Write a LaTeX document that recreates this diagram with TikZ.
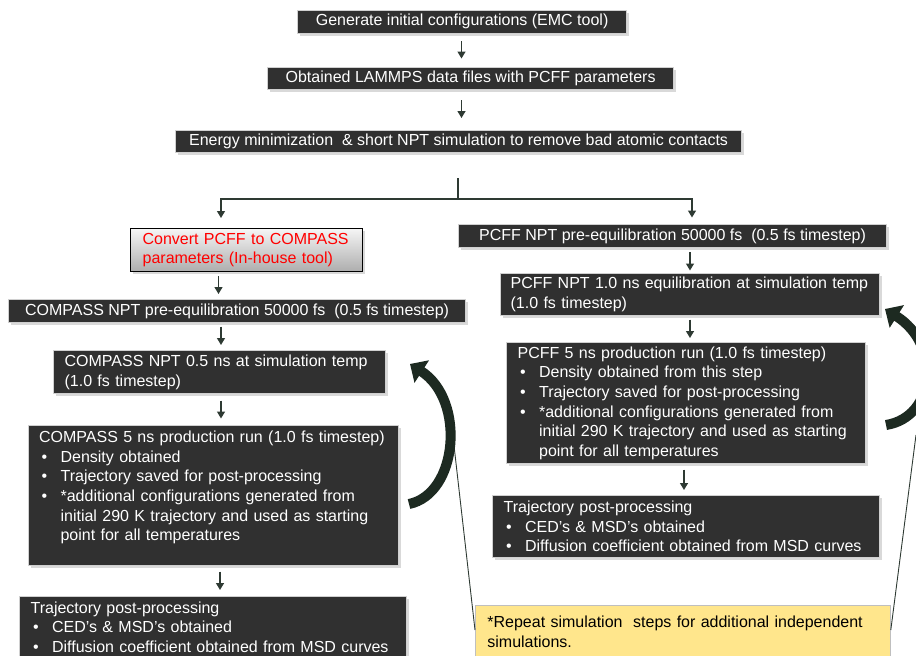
\documentclass[tikz,border=0pt]{standalone}
\usepackage{fontspec}
\setmainfont{Liberation Sans}
\usetikzlibrary{arrows.meta,shadows}
\definecolor{boxfill}{HTML}{303030}
\definecolor{boxedge}{HTML}{D0D0D0}
\definecolor{arrowc}{HTML}{2E3A33}
\definecolor{curvec}{HTML}{1D2A21}
\definecolor{notefill}{HTML}{FFE68C}
\definecolor{noteedge}{HTML}{BFBFBF}
\newcommand{\bitem}{\makebox[21.5pt][l]{\hspace{2.5pt}\textbullet}}
\newcommand{\bcont}{\hspace*{21.5pt}}
\tikzset{
  dbox/.style={fill=boxfill, draw=boxedge, line width=1.2pt, text=white,
    anchor=north west, inner ysep=2pt,
    drop shadow={opacity=0.3, shadow xshift=2pt, shadow yshift=-2.5pt}},
  onebox/.style={dbox, inner xsep=0pt, align=center},
  multibox/.style={dbox, align=left},
  convbox/.style={anchor=north west, draw=black, line width=1.3pt,
    top color=black!4, bottom color=black!32, text=red, align=left,
    inner ysep=2pt,
    drop shadow={opacity=0.3, shadow xshift=2pt, shadow yshift=-2.5pt}},
  arr/.style={draw=arrowc, line width=1.4pt, -{Triangle[length=7pt,width=8pt]}},
  joinline/.style={draw=arrowc, line width=1.4pt},
  bendarrow/.style={draw=curvec, line width=10pt, -{Triangle[length=14pt,width=26pt]}},
  calloutline/.style={draw=arrowc, line width=0.9pt},
  notebox/.style={anchor=north west, fill=notefill, draw=noteedge, line width=0.8pt,
    text=black, align=left}
}
\begin{document}
\begin{tikzpicture}[x=1pt,y=-1pt,font=\fontsize{16}{19.6}\selectfont]
\useasboundingbox (0,0) rectangle (916,656);
\clip (0,0) rectangle (916,656);

% top column
\node[onebox, minimum width=329pt, minimum height=22.5pt] (b1) at (297,10)
  {Generate initial configurations (EMC tool)};
\node[onebox, minimum width=406pt, minimum height=22pt] (b2) at (267,67)
  {Obtained LAMMPS data files with PCFF parameters};
\node[onebox, minimum width=566pt, minimum height=22pt] (b3) at (175,130)
  {Energy minimization\ \ \& short NPT simulation to remove bad atomic contacts};

% left column
\node[convbox, minimum width=232pt, minimum height=43pt, inner xsep=12pt, text width=208pt] (conv) at (130,228)
  {Convert PCFF to COMPASS\\parameters (In-house tool)};
\node[onebox, minimum width=457pt, minimum height=23pt] (b5) at (8,299)
  {COMPASS NPT pre-equilibration 50000 fs\ \ (0.5 fs timestep)};
\node[multibox, minimum width=332pt, minimum height=43pt, inner xsep=11pt, text width=310pt] (b6) at (53,350)
  {COMPASS NPT 0.5 ns at simulation temp\\(1.0 fs timestep)};
\node[multibox, minimum width=370pt, minimum height=140pt, inner xsep=10.5pt, text width=349pt] (b7) at (28,425)
  {COMPASS 5 ns production run (1.0 fs timestep)\\
   \bitem Density obtained\\
   \bitem Trajectory saved for post-processing\\
   \bitem *additional configurations generated from\\
   \bcont initial 290 K trajectory and used as starting\\
   \bcont point for all temperatures\\ \mbox{}};
\node[multibox, minimum width=387pt, inner xsep=11pt, inner ysep=5pt, text width=365pt] (b8) at (19,596)
  {Trajectory post-processing\\
   \bitem CED's \& MSD's obtained\\
   \bitem Diffusion coefficient obtained from MSD curves\\ \mbox{}};

% right column
\node[onebox, minimum width=428pt, minimum height=23pt] (b9) at (458,224)
  {PCFF NPT pre-equilibration 50000 fs\ \ (0.5 fs timestep)};
\node[multibox, minimum width=379pt, minimum height=42pt, inner xsep=10pt, text width=359pt] (b10) at (500,273)
  {PCFF NPT 1.0 ns equilibration at simulation temp\\(1.0 fs timestep)};
\node[multibox, minimum width=359pt, minimum height=121pt, inner xsep=11pt, text width=337pt] (b11) at (506,342)
  {PCFF 5 ns production run (1.0 fs timestep)\\
   \bitem Density obtained from this step\\
   \bitem Trajectory saved for post-processing\\
   \bitem *additional configurations generated from\\
   \bcont initial 290 K trajectory and used as starting\\
   \bcont point for all temperatures};
\node[multibox, minimum width=387pt, minimum height=62pt, inner xsep=11pt, text width=365pt] (b12) at (492,495)
  {Trajectory post-processing\\
   \bitem CED's \& MSD's obtained\\
   \bitem Diffusion coefficient obtained from MSD curves};

% note
\node[notebox, minimum width=415pt, inner xsep=12pt, inner ysep=10.5pt, text width=391pt] (note) at (475,605)
  {*Repeat simulation\ \ steps for additional independent\\simulations.\\ \mbox{}};

% x positions of the straight arrows
\coordinate (xtop) at (461.5,0);
\coordinate (xc) at (218.5,0);
\coordinate (xl) at (221,0);
\coordinate (xl2) at (220,0);
\coordinate (xr) at (690,0);
\coordinate (xr2) at (684,0);
\coordinate (xsl) at (221,0);
\coordinate (xsr) at (692,0);

\draw[arr, shorten <=7.5pt, shorten >=8.5pt] (b1.south -| xtop) -- (b2.north -| xtop);
\draw[arr, shorten <=10pt, shorten >=12pt] (b2.south -| xtop) -- (b3.north -| xtop);

% split
\coordinate (sp) at (458,178);
\coordinate (jn) at (458,199);
\draw[joinline] (sp) -- (jn);
\draw[arr, shorten >=10pt] (jn) -| (conv.north -| xsl);
\draw[arr, shorten >=6.5pt] (jn) -| (b9.north -| xsr);

\draw[arr, shorten <=4pt, shorten >=5pt] (conv.south -| xc) -- (b5.north -| xc);
\draw[arr, shorten <=3.5pt, shorten >=5pt] (b5.south -| xl) -- (b6.north -| xl);
\draw[arr, shorten <=6.5pt, shorten >=6.5pt] (b6.south -| xl) -- (b7.north -| xl);
\draw[arr, shorten <=5.5pt, shorten >=6pt] (b7.south -| xl2) -- (b8.north -| xl2);

\draw[arr, shorten <=4pt, shorten >=2.5pt] (b9.south -| xr) -- (b10.north -| xr);
\draw[arr, shorten <=3.5pt, shorten >=4pt] (b10.south -| xr) -- (b11.north -| xr);
\draw[arr, shorten <=5.5pt, shorten >=5pt] (b11.south -| xr2) -- (b12.north -| xr2);

% callout lines
\coordinate (lp) at (452,428);
\coordinate (rp) at (916,435);
\draw[calloutline] ([yshift=-25pt]note.north west) -- (lp);
\draw[calloutline] ([yshift=-25pt]note.north east) -- (rp);

% curved repeat arrows
\coordinate (lt) at (409,504);
\coordinate (lh) at (410,364);
\draw[bendarrow] (lt) .. controls (458,494) and (466,400) .. (lh);
\coordinate (rt) at (886,425);
\coordinate (rh) at (885,309);
\draw[bendarrow] (rt) .. controls (936,417) and (942,345) .. (rh);
\end{tikzpicture}
\end{document}
